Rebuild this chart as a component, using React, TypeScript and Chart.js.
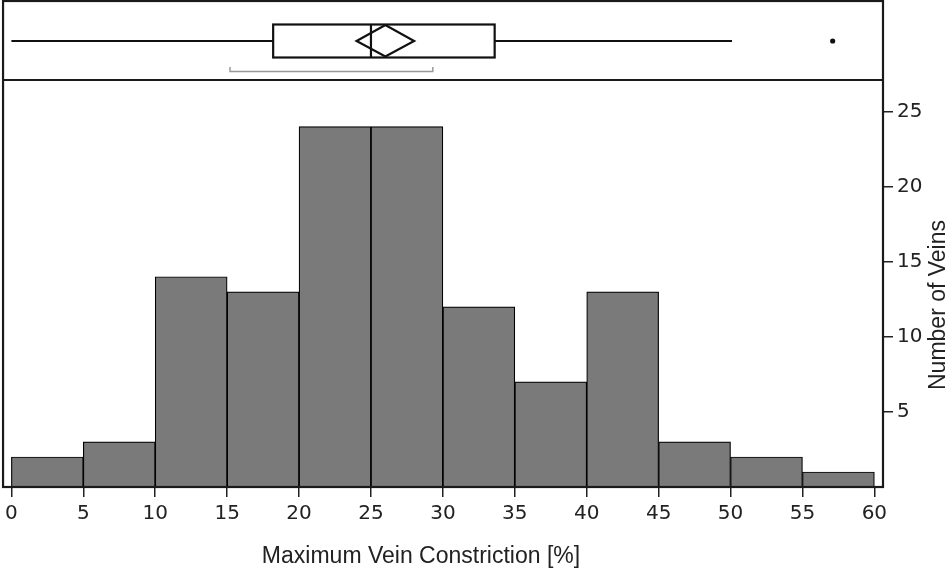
import React, { useEffect, useRef } from 'react';
import { Chart, registerables } from 'chart.js';

Chart.register(...registerables);

// ---- data ----
const binEdges = [0, 5, 10, 15, 20, 25, 30, 35, 40, 45, 50, 55, 60];
const counts = [2, 3, 14, 13, 24, 24, 12, 7, 13, 3, 2, 1];
const xTickValues = [0, 5, 10, 15, 20, 25, 30, 35, 40, 45, 50, 55, 60];
const yTickValues = [5, 10, 15, 20, 25];
const whiskerEnds = [0.0, 50.1];
const quartiles = [18.2, 25.0, 33.6];
const meanDiamond = [24.0, 26.0, 28.0];
const shortestHalf = [15.2, 29.3];
const outliers = [57.1];
const xTitle = 'Maximum Vein Constriction [%]';
const yTitle = 'Number of Veins';

const tickFont = { family: "'DejaVu Sans', sans-serif", size: 20 };
const titleFont = "23px 'Liberation Sans', Arial, sans-serif";

const boxPlotPlugin = {
  id: 'boxPlotPanel',
  afterDraw(chart: any) {
    const ctx = chart.ctx as CanvasRenderingContext2D;
    const xs = chart.scales.x;
    const area = chart.chartArea;
    const px = (v: number) => xs.getPixelForValue(v);
    ctx.save();

    // frame around both panels
    ctx.strokeStyle = '#1a1a1a';
    ctx.lineWidth = 2.2;
    ctx.strokeRect(area.left, 1, area.right - area.left, area.bottom - 1);
    ctx.beginPath();
    ctx.moveTo(area.left, area.top);
    ctx.lineTo(area.right, area.top);
    ctx.stroke();

    // box plot
    const cy = 41;
    const bTop = 24.5;
    const bBot = 57.5;
    ctx.strokeStyle = '#111';
    ctx.lineWidth = 2.2;
    ctx.beginPath();
    ctx.moveTo(px(whiskerEnds[0]), cy);
    ctx.lineTo(px(quartiles[0]), cy);
    ctx.moveTo(px(quartiles[2]), cy);
    ctx.lineTo(px(whiskerEnds[1]), cy);
    ctx.stroke();
    ctx.strokeRect(px(quartiles[0]), bTop, px(quartiles[2]) - px(quartiles[0]), bBot - bTop);
    ctx.beginPath();
    ctx.moveTo(px(quartiles[1]), bTop);
    ctx.lineTo(px(quartiles[1]), bBot);
    ctx.stroke();

    // mean diamond
    ctx.beginPath();
    ctx.moveTo(px(meanDiamond[0]), cy);
    ctx.lineTo(px(meanDiamond[1]), bTop + 0.5);
    ctx.lineTo(px(meanDiamond[2]), cy);
    ctx.lineTo(px(meanDiamond[1]), bBot - 1);
    ctx.closePath();
    ctx.stroke();

    // shortest half bracket
    ctx.strokeStyle = '#999';
    ctx.lineWidth = 1.5;
    ctx.beginPath();
    ctx.moveTo(px(shortestHalf[0]), 67);
    ctx.lineTo(px(shortestHalf[0]), 71.5);
    ctx.lineTo(px(shortestHalf[1]), 71.5);
    ctx.lineTo(px(shortestHalf[1]), 67);
    ctx.stroke();

    // outliers
    ctx.fillStyle = '#111';
    outliers.forEach((o) => {
      ctx.beginPath();
      ctx.arc(px(o), cy, 2.6, 0, Math.PI * 2);
      ctx.fill();
    });

    // axis titles
    ctx.fillStyle = '#222';
    ctx.font = titleFont;
    ctx.textAlign = 'center';
    ctx.textBaseline = 'alphabetic';
    ctx.fillText(xTitle, 421, 563);
    ctx.translate(945, 305);
    ctx.rotate(-Math.PI / 2);
    ctx.fillText(yTitle, 0, 0);

    ctx.restore();
  },
};

export default function App() {
  const ref = useRef<HTMLCanvasElement | null>(null);

  useEffect(() => {
    document.body.style.margin = '0';
    if (!ref.current) return;
    const data = counts.map((c, i) => ({ x: (binEdges[i] + binEdges[i + 1]) / 2, y: c }));
    const chart = new Chart(ref.current, {
      type: 'bar',
      data: {
        datasets: [
          {
            data,
            backgroundColor: '#7a7a7a',
            borderColor: '#000',
            borderWidth: 1.2,
            barPercentage: 1,
            categoryPercentage: 1,
          },
        ],
      },
      options: {
        animation: false,
        responsive: false,
        devicePixelRatio: 1,
        layout: { padding: { left: 3, top: 80, right: 0, bottom: 0 } },
        plugins: { legend: { display: false }, tooltip: { enabled: false } },
        scales: {
          x: {
            type: 'linear',
            min: -0.58,
            max: 60.6,
            offset: false,
            afterBuildTicks: (scale: any) => {
              scale.ticks = xTickValues.map((v) => ({ value: v }));
            },
            afterFit: (scale: any) => {
              scale.height = 84;
            },
            grid: {
              offset: false,
              drawOnChartArea: false,
              drawTicks: true,
              tickLength: 10,
              color: '#222',
              lineWidth: 1.5,
            },
            border: { display: false },
            ticks: { autoSkip: false, maxRotation: 0, font: tickFont, color: '#222', padding: 5 },
          },
          y: {
            type: 'linear',
            position: 'right',
            min: 0,
            max: 27.1,
            afterBuildTicks: (scale: any) => {
              scale.ticks = yTickValues.map((v) => ({ value: v }));
            },
            afterFit: (scale: any) => {
              scale.width = 66;
            },
            grid: {
              drawOnChartArea: false,
              drawTicks: true,
              tickLength: 10,
              color: '#222',
              lineWidth: 1.5,
            },
            border: { display: false },
            ticks: { font: tickFont, color: '#222', padding: 4 },
          },
        },
      },
      plugins: [boxPlotPlugin],
    } as any);
    return () => chart.destroy();
  }, []);

  return (
    <canvas ref={ref} width={949} height={571} style={{ display: 'block', width: 949, height: 571 }} />
  );
}
